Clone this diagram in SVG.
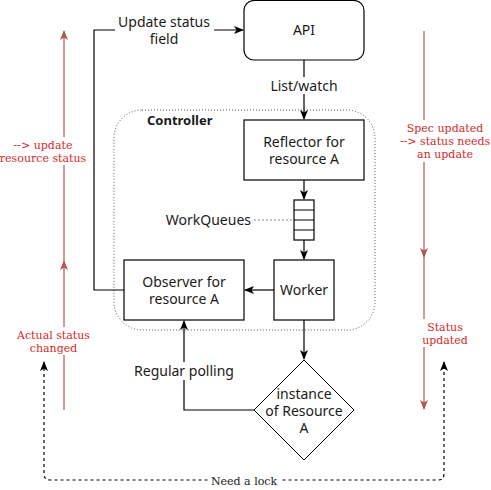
<svg xmlns="http://www.w3.org/2000/svg" width="491" height="490" viewBox="0 0 491 490">
<style>
.box{fill:#fff;stroke:#000;stroke-width:1.2}
.t{font-family:"Noto Sans","Open Sans",sans-serif;font-size:14px;fill:#1a1a1a;text-anchor:middle}
.b{font-weight:bold;text-anchor:start;font-size:13px}
.r{font-family:"DejaVu Serif","Liberation Serif",serif;font-size:11px;fill:#d42a2a;text-anchor:middle}
.k{font-family:"DejaVu Serif","Liberation Serif",serif;font-size:11px;fill:#222;text-anchor:middle}
.e{fill:none;stroke:#000;stroke-width:1.2}
.red{fill:none;stroke:#b85450;stroke-width:1.2}
.d{fill:none;stroke:#000;stroke-width:1.2;stroke-dasharray:3 3}
.bg{fill:#fff}
</style>
<defs>
<marker id="a" viewBox="0 0 10 8" refX="9" refY="4" markerWidth="10" markerHeight="8" markerUnits="userSpaceOnUse" orient="auto-start-reverse">
<path d="M0,0 L10,4 L0,8 L2.5,4 z" fill="#000"/>
</marker>
<marker id="ar" viewBox="0 0 10 8" refX="9" refY="4" markerWidth="10" markerHeight="8" markerUnits="userSpaceOnUse" orient="auto-start-reverse">
<path d="M0,0 L10,4 L0,8 L2.5,4 z" fill="#b85450"/>
</marker>
</defs>

<g id="controller">
<rect x="114" y="110" width="261" height="220" rx="28" fill="none" stroke="#555" stroke-width="1" stroke-dasharray="1 2"/>
<text class="t b" x="147" y="125">Controller</text>
</g>

<g id="connectors">
<path class="e" d="M124,290 H94 V30 H243" marker-end="url(#a)"/>
<rect class="bg" x="115" y="12" width="99" height="36"/>
<text class="t" x="164" y="27">Update status</text>
<text class="t" x="164" y="44">field</text>

<path class="e" d="M304,60 V119" marker-end="url(#a)"/>
<rect class="bg" x="268" y="77" width="72" height="17"/>
<text class="t" x="304" y="91">List/watch</text>

<path class="e" d="M304,180 V199" marker-end="url(#a)"/>
<path class="e" d="M304,240 V259" marker-end="url(#a)"/>
<path class="e" d="M274,290 H245" marker-end="url(#a)"/>
<path class="e" d="M304,320 V359" marker-end="url(#a)"/>
<path class="e" d="M254,410 H184 V321" marker-end="url(#a)"/>
<rect class="bg" x="130" y="362" width="108" height="18"/>
<text class="t" x="184" y="376">Regular polling</text>

<path d="M254,220 H294" fill="none" stroke="#888" stroke-width="1" stroke-dasharray="2 2"/>
<text class="t" x="251" y="225" style="text-anchor:end">WorkQueues</text>

<path class="red" d="M64,410 V261" marker-end="url(#ar)"/>
<path class="red" d="M64,261 V31" marker-end="url(#ar)"/>
<path class="red" d="M424,31 V257" marker-end="url(#ar)"/>
<path class="red" d="M424,257 V409" marker-end="url(#ar)"/>
<rect class="bg" x="0" y="137" width="90" height="28"/>
<text class="r" x="43" y="149">--&gt; update</text>
<text class="r" x="43" y="162">resource status</text>
<rect class="bg" x="15" y="327" width="78" height="28"/>
<text class="r" x="53.5" y="339">Actual status</text>
<text class="r" x="53.5" y="352">changed</text>
<rect class="bg" x="396" y="120" width="95" height="42"/>
<text class="r" x="445" y="132">Spec updated</text>
<text class="r" x="445" y="145">--&gt; status needs</text>
<text class="r" x="445" y="158">an update</text>
<rect class="bg" x="418" y="319" width="52" height="28"/>
<text class="r" x="445" y="331">Status</text>
<text class="r" x="445" y="344">updated</text>

<path class="d" d="M44,362 V474 Q44,480 50,480 H438 Q444,480 444,474 V362" marker-start="url(#a)" marker-end="url(#a)"/>
<rect class="bg" x="209" y="474" width="71" height="14"/>
<text class="k" x="244" y="485">Need a lock</text>
</g>

<g id="api">
<rect class="box" x="244" y="0.5" width="120" height="59.5" rx="10"/>
<text class="t" x="304" y="35">API</text>
</g>
<g id="reflector">
<rect class="box" x="244" y="120" width="120" height="60"/>
<text class="t" x="304" y="147">Reflector for</text>
<text class="t" x="304" y="164">resource A</text>
</g>
<g id="workqueue">
<rect class="box" x="294" y="200" width="20" height="40"/>
<path d="M294,210 H314 M294,220 H314 M294,230 H314" stroke="#000" stroke-width="1.2"/>
</g>
<g id="worker">
<rect class="box" x="274" y="260" width="60" height="60"/>
<text class="t" x="304" y="295">Worker</text>
</g>
<g id="observer">
<rect class="box" x="124" y="260" width="120" height="60"/>
<text class="t" x="184" y="287">Observer for</text>
<text class="t" x="184" y="304">resource A</text>
</g>
<g id="instance">
<path d="M304,360 L354,410 L304,460 L254,410 Z" fill="#fff" stroke="#000" stroke-width="1"/>
<text class="t" x="304" y="399">instance</text>
<text class="t" x="304" y="416">of Resource</text>
<text class="t" x="304" y="433">A</text>
</g>
</svg>
